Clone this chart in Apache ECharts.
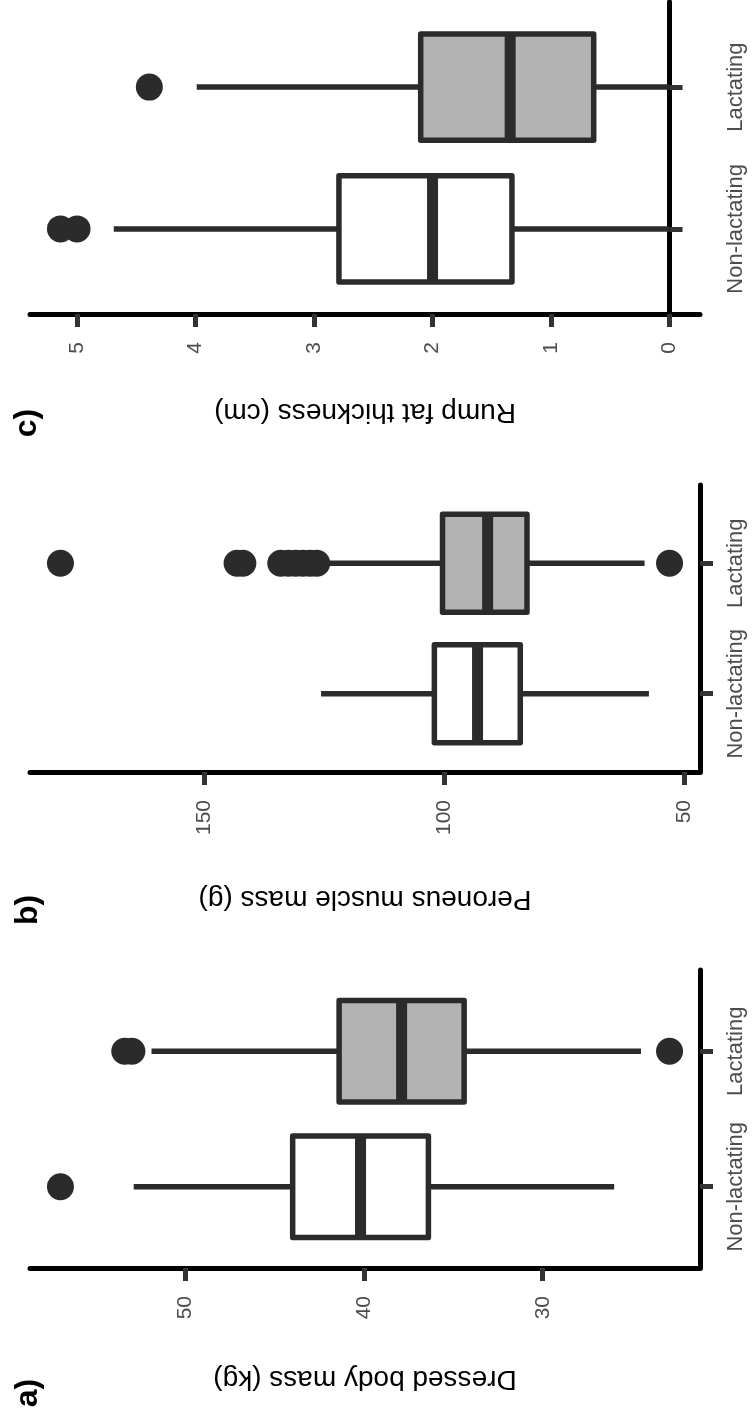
<!DOCTYPE html>
<html>
<head>
<meta charset="utf-8">
<script src="https://cdn.jsdelivr.net/npm/echarts@6/dist/echarts.min.js"></script>
<style>
  html, body { margin: 0; padding: 0; background: #ffffff; }
  #chart { width: 752px; height: 1418px; }
</style>
</head>
<body>
<div id="chart"></div>
<script>
// ---------- data ----------
const categories = ['Non-lactating', 'Lactating'];
const panelLabels = ['a)', 'b)', 'c)'];
const axisTitles = ['Dressed body mass (kg)', 'Peroneus muscle mass (g)', 'Rump fat thickness (cm)'];

// box statistics per category: [lower whisker, Q1, median, Q3, upper whisker]
const massStats = [[26.0, 36.4, 40.2, 44.0, 52.9], [24.5, 34.4, 37.9, 41.4, 51.9]];
const massOutliers = [[57.0], [53.4, 53.0, 22.9]];
const massTicks = [30, 40, 50];

const peroneusStats = [[57.4, 84.2, 93.1, 102.1, 125.7], [58.3, 82.8, 91.0, 100.4, 125.0]];
const peroneusOutliers = [[], [180.0, 143.2, 142.0, 134.1, 132.5, 131.0, 129.5, 128.0, 126.6, 53.1]];
const peroneusTicks = [50, 100, 150];

const rumpStats = [[0.0, 1.33, 2.00, 2.79, 4.69], [0.0, 0.64, 1.345, 2.10, 3.99]];
const rumpOutliers = [[5.14, 5.0], [4.39]];
const rumpTicks = [0, 1, 2, 3, 4, 5];

const boxFills = ['#ffffff', '#b3b3b3'];

// ---------- styling ----------
const FONT = '"Liberation Sans", Arial, Helvetica, sans-serif';
const INK = '#2b2b2b';

const panels = [
  { stats: massStats, outliers: massOutliers, ticks: massTicks, grid: { left: 30, top: 970, width: 670, height: 298 }, nameGap: 97, label: { x: 28, y: 1393 } },
  { stats: peroneusStats, outliers: peroneusOutliers, ticks: peroneusTicks, grid: { left: 30, top: 485, width: 670, height: 287 }, nameGap: 113, label: { x: 28, y: 910 } },
  { stats: rumpStats, outliers: rumpOutliers, ticks: rumpTicks, grid: { left: 30, top: 2, width: 670, height: 312 }, nameGap: 84, label: { x: 27, y: 423 } }
];

function extentOf(p) {
  let lo = Infinity, hi = -Infinity;
  p.stats.forEach(s => s.forEach(v => { lo = Math.min(lo, v); hi = Math.max(hi, v); }));
  p.outliers.forEach(o => o.forEach(v => { lo = Math.min(lo, v); hi = Math.max(hi, v); }));
  const pad = (hi - lo) * 0.05;
  return [lo - pad, hi + pad];
}

const grids = [], xAxes = [], yAxes = [], series = [], graphics = [];

panels.forEach((p, i) => {
  const ext = extentOf(p);
  grids.push(Object.assign({ containLabel: false }, p.grid));
  xAxes.push({
    type: 'value', gridIndex: i, inverse: true,
    min: ext[0], max: ext[1],
    name: axisTitles[i], nameLocation: 'middle', nameGap: p.nameGap, nameRotate: 180,
    nameTextStyle: { fontSize: 28, color: '#000000', fontFamily: FONT },
    axisLine: { show: true, lineStyle: { color: '#000000', width: 5 } },
    axisTick: { show: true, inside: false, length: 13, lineStyle: { color: '#333333', width: 5 }, customValues: p.ticks },
    axisLabel: { show: true, rotate: 90, margin: 28, fontSize: 21, color: '#4d4d4d', fontFamily: FONT, customValues: p.ticks },
    splitLine: { show: false }
  });
  yAxes.push({
    type: 'value', gridIndex: i, position: 'right',
    min: 0.4, max: 2.6,
    axisLine: { show: true, lineStyle: { color: '#000000', width: 5 } },
    axisTick: { show: true, inside: false, length: 13, lineStyle: { color: '#333333', width: 5 }, customValues: [1, 2] },
    axisLabel: {
      show: true, rotate: 90, margin: 25, fontSize: 22, color: '#4d4d4d', fontFamily: FONT,
      customValues: [1, 2],
      formatter: v => categories[Math.round(v) - 1]
    },
    splitLine: { show: false }
  });

  const boxData = p.stats.map((s, c) => [c + 1, s[0], s[1], s[2], s[3], s[4], c]);
  series.push({
    type: 'custom', xAxisIndex: i, yAxisIndex: i, z: 2,
    data: boxData,
    encode: { y: 0, x: [1, 2, 3, 4, 5] },
    renderItem: function (params, api) {
      const c = api.value(0);
      const lo = api.value(1), q1 = api.value(2), med = api.value(3), q3 = api.value(4), hi = api.value(5);
      const fill = boxFills[api.value(6)];
      const half = 0.375;
      const pLo = api.coord([lo, c]), pQ1 = api.coord([q1, c]), pQ3 = api.coord([q3, c]), pHi = api.coord([hi, c]);
      const top = api.coord([q1, c + half])[1], bot = api.coord([q1, c - half])[1];
      const xa = Math.min(pQ1[0], pQ3[0]), xb = Math.max(pQ1[0], pQ3[0]);
      const pMed = api.coord([med, c]);
      return {
        type: 'group',
        children: [
          { type: 'line', shape: { x1: pLo[0], y1: pLo[1], x2: pQ1[0], y2: pQ1[1] }, style: { stroke: INK, lineWidth: 5.5 } },
          { type: 'line', shape: { x1: pQ3[0], y1: pQ3[1], x2: pHi[0], y2: pHi[1] }, style: { stroke: INK, lineWidth: 5.5 } },
          { type: 'rect', shape: { x: xa, y: top, width: xb - xa, height: bot - top }, style: { fill: fill, stroke: INK, lineWidth: 5.5, lineJoin: 'round' } },
          { type: 'line', shape: { x1: pMed[0], y1: top, x2: pMed[0], y2: bot }, style: { stroke: INK, lineWidth: 11 } }
        ]
      };
    },
    silent: true
  });

  const pts = [];
  p.outliers.forEach((o, c) => o.forEach(v => pts.push([v, c + 1])));
  series.push({
    type: 'scatter', xAxisIndex: i, yAxisIndex: i, z: 3,
    symbol: 'circle', symbolSize: 27,
    itemStyle: { color: INK, opacity: 1 },
    data: pts, silent: true
  });

  graphics.push({
    type: 'text', x: p.label.x, y: p.label.y, rotation: Math.PI / 2,
    style: { text: panelLabels[i], fill: '#000000', font: 'bold 32px ' + FONT, align: 'center', verticalAlign: 'middle' }
  });
});

const chart = echarts.init(document.getElementById('chart'), null, { renderer: 'canvas' });
chart.setOption({
  backgroundColor: '#ffffff',
  animation: false,
  grid: grids,
  xAxis: xAxes,
  yAxis: yAxes,
  series: series,
  graphic: graphics
});
</script>
</body>
</html>
